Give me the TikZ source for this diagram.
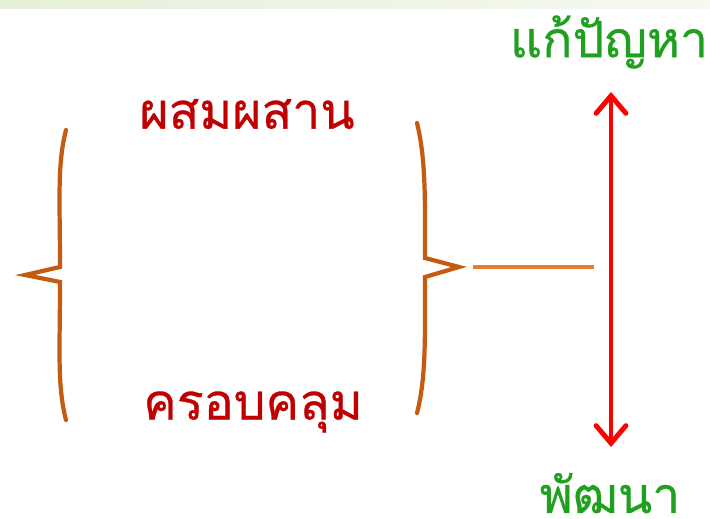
\documentclass[tikz,border=0pt]{standalone}
\usepackage{fontspec}
\newfontfamily\thaifont[Script=Thai, FakeBold=0.6]{Loma}
\usetikzlibrary{arrows.meta}

\definecolor{bracebrown}{HTML}{C55A11}
\definecolor{lineorange}{HTML}{E97A2F}
\definecolor{wordred}{HTML}{C00000}
\definecolor{wordgreen}{HTML}{1FA01F}
\definecolor{stripgreen}{HTML}{E6EFD9}

\tikzset{
    redword/.style={text=wordred, font=\thaifont\fontsize{28.5}{34}\selectfont, inner sep=0pt},
    greenword/.style={text=wordgreen, font=\thaifont\fontsize{28.5}{34}\selectfont, inner sep=0pt},
    bracepath/.style={draw=bracebrown, line width=2.4pt, line join=miter, line cap=round},
}

\begin{document}
\begin{tikzpicture}[x=0.02cm, y=-0.02cm]
            \useasboundingbox (0,0) rectangle (710,519);

            % 1. Zöld sáv a tetején
            \shade[left color=stripgreen, right color=stripgreen!40, middle color=stripgreen!70] (0,0) rectangle (710,9);

            % 2. Szavak elhelyezése
            \node[redword] (mix) at (247,114) {ผสมผสาน};
            \node[redword] (cover) at (253,412) {ครอบคลุม};
            \node[greenword] (solve) at (609,42) {แก้ปัญหา};
            \node[greenword, text depth=0pt, anchor=base] (develop) at (610,513) {พัฒนา};

            % 3. Kapcsos zárójelek
            \draw[bracepath] (66,130) .. controls (57,165) and (60,200) .. (60,267)
                -- (25,275) -- (60,282) .. controls (60,350) and (57,385) .. (66,420);
            \draw[bracepath] (417,123) .. controls (426,160) and (425,200) .. (425,258)
                -- (459,267) -- (425,277) .. controls (425,340) and (426,378) .. (417,413);

            % 4. Vonal és nyíl
            \coordinate (tip) at (473,267);
            \coordinate (lineend) at (594,267);
            \draw[lineorange, line width=2pt] (tip) -- (lineend);

            \coordinate (top) at (611,92);
            \coordinate (bottom) at (611,447);
            \draw[red, line width=2.8pt, {Straight Barb[length=10pt, width=17pt, line cap=round]}-{Straight Barb[length=10pt, width=17pt, line cap=round]}] (top) -- (bottom);
\end{tikzpicture}
\end{document}
